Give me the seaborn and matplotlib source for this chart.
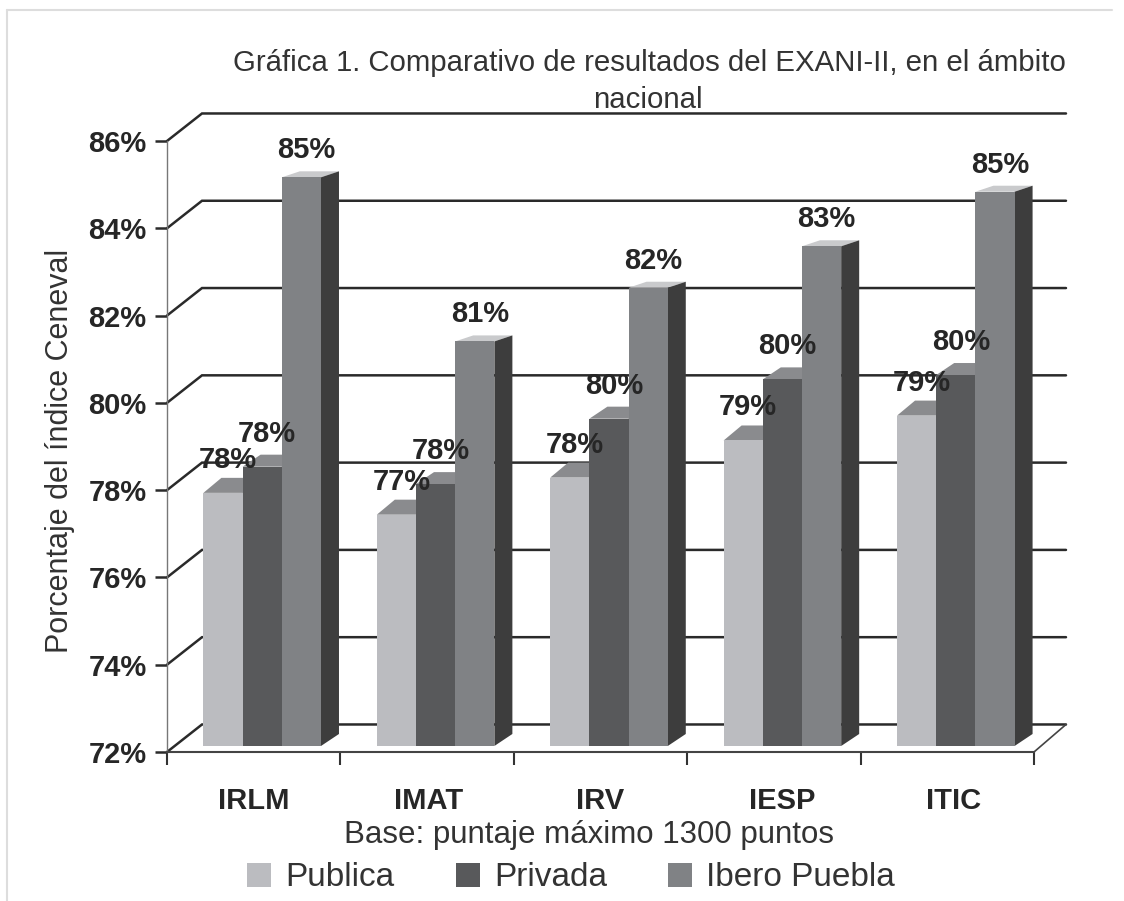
#!/usr/bin/env python3
# -*- coding: utf-8 -*-
"""Comparativo EXANI-II: barras con falso 3D."""

import pandas as pd
import matplotlib.pyplot as plt
from matplotlib.lines import Line2D
from matplotlib.patches import Patch, Polygon
import seaborn as sns

# datos
programas = ['IRLM', 'IMAT', 'IRV', 'IESP', 'ITIC']
publica = [77.8, 77.3, 78.15, 79.0, 79.57]
privada = [78.4, 78.0, 79.5, 80.4, 80.5]
ibero = [85.03, 81.27, 82.5, 83.45, 84.7]
etiq_publica = ['78%', '77%', '78%', '79%', '79%']
etiq_privada = ['78%', '78%', '80%', '80%', '80%']
etiq_ibero = ['85%', '81%', '82%', '83%', '85%']
yticks = [72, 74, 76, 78, 80, 82, 84, 86]

COLORES = {'Publica': '#bbbcc0', 'Privada': '#58595b', 'Ibero Puebla': '#808285'}
TAPAS = {'Publica': '#8a8b8e', 'Privada': '#8a8b8e', 'Ibero Puebla': '#c9cacc'}
# alto de la tapa y separacion de la etiqueta (px), cambia por la perspectiva
ALTO_TAPA = {'Publica': 15, 'Privada': 12, 'Ibero Puebla': 6}
SEP_ETIQ = {'Publica': 33, 'Privada': 33, 'Ibero Puebla': 27}
LADO = '#3d3d3d'
TEXTO = '#333333'

W, H = 1124, 901
PX_X = 173.4   # px por categoria
PX_Y = 43.6    # px por unidad


def dx(px):
    return px / PX_X


def dy(px):
    return px / PX_Y


sns.set_theme(style='white')
plt.rcParams['font.family'] = ['Liberation Sans', 'DejaVu Sans']

df = pd.DataFrame({
    'programa': programas * 3,
    'valor': publica + privada + ibero,
    'sector': ['Publica'] * 5 + ['Privada'] * 5 + ['Ibero Puebla'] * 5,
})

fig = plt.figure(figsize=(W / 100, H / 100), dpi=100)
ax = fig.add_axes([167 / W, 1 - 752 / H, 867 / W, 611 / H])

sns.barplot(data=df, x='programa', y='valor', hue='sector', order=programas,
            hue_order=list(COLORES), palette=COLORES, width=0.678, gap=0,
            saturation=1, legend=False, linewidth=0, ax=ax, zorder=3)

ax.set_xlim(-0.5, 4.5)
ax.set_ylim(72, 86)

# pared del fondo
for v in yticks:
    ax.plot([-0.5, -0.5 + dx(35), 4.5 + dx(32)], [v, v + dy(27.5), v + dy(27.5)],
            color='#2a2a2a', lw=1.8, clip_on=False, zorder=1,
            solid_joinstyle='miter')
ax.plot([4.5, 4.5 + dx(32)], [72, 72 + dy(27.5)], color='#444444', lw=1.2,
        clip_on=False, zorder=1)

# barras con tapa y lateral
series = [('Publica', publica, etiq_publica),
          ('Privada', privada, etiq_privada),
          ('Ibero Puebla', ibero, etiq_ibero)]
for cont, (nombre, vals, etiq) in zip(ax.containers, series):
    for bar, val, txt in zip(cont, vals, etiq):
        x0 = bar.get_x() + dx(8.5)
        x1 = x0 + bar.get_width()
        y0 = 72 + dy(6)
        y1 = val + dy(6)
        bar.set_x(x0)
        bar.set_y(y0)
        bar.set_height(val - 72)
        ox, oy = dx(18), dy(ALTO_TAPA[nombre])
        ax.add_patch(Polygon([(x0, y1), (x0 + ox, y1 + oy), (x1 + ox, y1 + oy), (x1, y1)],
                             facecolor=TAPAS[nombre], lw=0, zorder=2, clip_on=False))
        ax.add_patch(Polygon([(x1, y0), (x1 + ox, y0 + dy(12)), (x1 + ox, y1 + oy), (x1, y1)],
                             facecolor=LADO, lw=0, zorder=2, clip_on=False))
        ax.annotate(txt, ((x0 + x1) / 2, y1), xytext=(5, SEP_ETIQ[nombre]),
                    textcoords='offset pixels', ha='center', va='center', fontsize=21,
                    fontweight='bold', color='#262626', zorder=6, annotation_clip=False)

# ejes
sns.despine(ax=ax, top=True, right=True)
ax.spines['left'].set_color('#777777')
ax.spines['left'].set_linewidth(1.0)
ax.spines['bottom'].set_color('#444444')
ax.spines['bottom'].set_linewidth(1.5)
ax.set_xlabel('')
ax.set_ylabel('')

ax.set_yticks(yticks)
ax.set_yticklabels([f'{v}%' for v in yticks], fontsize=21, fontweight='bold', color='#262626')
ax.tick_params(axis='y', left=True, length=8.6, width=1.8, color='#2a2a2a', pad=6)

ax.set_xticks([i - 0.5 for i in range(len(programas) + 1)])
ax.set_xticklabels([])
ax.tick_params(axis='x', which='major', bottom=True, length=9.4, width=1.5, color='#333333')
ajuste = [0, 0.01, 0, 0.05, 0.035]
ax.set_xticks([i + a for i, a in enumerate(ajuste)], minor=True)
ax.set_xticklabels(programas, minor=True, fontsize=21, fontweight='bold', color='#262626')
ax.tick_params(axis='x', which='minor', bottom=False, length=0, pad=25)

# textos
fig.text(649 / W, 1 - 63 / H, 'Gráfica 1. Comparativo de resultados del EXANI-II, en el ámbito',
         ha='center', va='center', fontsize=21.2, color=TEXTO)
fig.text(648 / W, 1 - 100 / H, 'nacional', ha='center', va='center', fontsize=21.2, color=TEXTO)
fig.text(60 / W, 1 - 451 / H, 'Porcentaje del índice Ceneval', rotation=90,
         ha='center', va='center', fontsize=22, color=TEXTO)
fig.text(589 / W, 1 - 835 / H, 'Base: puntaje máximo 1300 puntos',
         ha='center', va='center', fontsize=22.5, color=TEXTO)

# leyenda
handles = [Patch(facecolor=c, edgecolor='none', label=n) for n, c in COLORES.items()]
leg = fig.legend(handles=handles, ncols=3, loc='center left',
                 bbox_to_anchor=(247 / W, 1 - 878 / H), frameon=False, fontsize=24,
                 handlelength=0.72, handleheight=0.72, handletextpad=0.42,
                 columnspacing=1.85, borderpad=0, borderaxespad=0)
for t in leg.get_texts():
    t.set_color(TEXTO)

# marco de la pagina
fig.add_artist(Line2D([7 / W, 7 / W], [0, 1 - 10 / H], color='#dddddd', lw=1.5))
fig.add_artist(Line2D([7 / W, 1112 / W], [1 - 10 / H, 1 - 10 / H], color='#dddddd', lw=1.5))

fig.savefig('out.png', dpi=100)
plt.close(fig)
